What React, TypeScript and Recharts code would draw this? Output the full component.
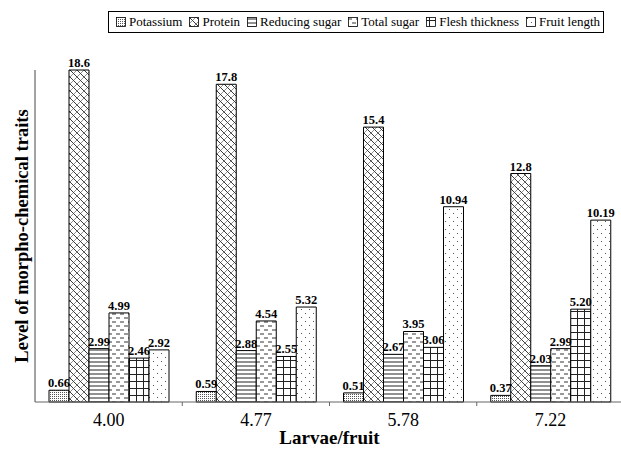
import React from 'react';
import { BarChart, Bar, XAxis, YAxis, LabelList, Legend } from 'recharts';

const categories = ['4.00', '4.77', '5.78', '7.22'];
const potassium = [0.66, 0.59, 0.51, 0.37];
const protein = [18.6, 17.8, 15.4, 12.8];
const reducingSugar = [2.99, 2.88, 2.67, 2.03];
const totalSugar = [4.99, 4.54, 3.95, 2.99];
const fleshThickness = [2.46, 2.55, 3.06, 5.2];
const fruitLength = [2.92, 5.32, 10.94, 10.19];

const SERIES = [
    { key: 'potassium', name: 'Potassium', pattern: 'pat-k', digits: 2 },
    { key: 'protein', name: 'Protein', pattern: 'pat-p', digits: 1 },
    { key: 'reducing', name: 'Reducing sugar', pattern: 'pat-rs', digits: 2 },
    { key: 'total', name: 'Total sugar', pattern: 'pat-ts', digits: 2 },
    { key: 'flesh', name: 'Flesh thickness', pattern: 'pat-ft', digits: 2 },
    { key: 'fruit', name: 'Fruit length', pattern: 'pat-fl', digits: 2 },
];

const data = categories.map((c, i) => ({
    cat: c,
    potassium: potassium[i],
    protein: protein[i],
    reducing: reducingSugar[i],
    total: totalSugar[i],
    flesh: fleshThickness[i],
    fruit: fruitLength[i],
}));

const FONT = 'Liberation Serif';
const W = 624;
const H = 450;
const LEFT = 35;
const BAND = (W - LEFT) / categories.length;

function Patterns() {
    return (
        <defs>
            <pattern id="pat-k" width="2" height="2" patternUnits="userSpaceOnUse">
                <rect width="2" height="2" fill="#fff" />
                <rect width="1" height="1" fill="#555" />
            </pattern>
            <pattern id="pat-p" width="7" height="7" patternUnits="userSpaceOnUse">
                <rect width="7" height="7" fill="#fff" />
                <path d="M0,0 L7,7 M-1,6 L1,8 M6,-1 L8,1" stroke="#222" strokeWidth="0.9" />
                <path d="M0,7 L7,0" stroke="#444" strokeWidth="0.6" />
            </pattern>
            <pattern id="pat-rs" width="4" height="4" patternUnits="userSpaceOnUse">
                <rect width="4" height="4" fill="#fff" />
                <line x1="0" y1="2" x2="4" y2="2" stroke="#222" strokeWidth="1" />
            </pattern>
            <pattern id="pat-ts" width="8" height="8" patternUnits="userSpaceOnUse">
                <rect width="8" height="8" fill="#fff" />
                <line x1="0" y1="2" x2="4" y2="2" stroke="#333" strokeWidth="1" />
                <line x1="4" y1="6" x2="8" y2="6" stroke="#333" strokeWidth="1" />
            </pattern>
            <pattern id="pat-ft" width="7" height="7" patternUnits="userSpaceOnUse">
                <rect width="7" height="7" fill="#fff" />
                <path d="M0,3.5 L7,3.5 M3.5,0 L3.5,7" stroke="#222" strokeWidth="1" />
            </pattern>
            <pattern id="pat-fl" width="8" height="8" patternUnits="userSpaceOnUse">
                <rect width="8" height="8" fill="#fff" />
                <rect x="1" y="1" width="1" height="1" fill="#555" />
                <rect x="5" y="5" width="1" height="1" fill="#555" />
            </pattern>
        </defs>
    );
}

function XTick(props: any) {
    const { x, y, payload, index } = props;
    return (
        <g>
            {index > 0 && (
                <line x1={x - BAND / 2} y1={y - 8} x2={x - BAND / 2} y2={y - 4} stroke="#666" />
            )}
            <text x={x} y={y + 16} textAnchor="middle" fontSize={18} fontFamily={FONT} fill="#000">
                {payload.value}
            </text>
        </g>
    );
}

function YLabel(props: any) {
    const vb = props.viewBox || { x: 0, y: 48, width: LEFT, height: 354 };
    const cx = vb.x + 22;
    const cy = vb.y + vb.height / 2;
    return (
        <text
            x={cx}
            y={cy}
            transform={`rotate(-90, ${cx}, ${cy})`}
            textAnchor="middle"
            dominantBaseline="central"
            fontSize={18.5}
            fontWeight="bold"
            fill="#000"
            fontFamily={FONT}
        >
            Level of morpho-chemical traits
        </text>
    );
}

function LegendBox() {
    return (
        <div
            style={{
                display: 'flex',
                alignItems: 'center',
                border: '1px solid #000',
                padding: '2px 3px 2px 7px',
                fontFamily: FONT,
                fontSize: 13,
                color: '#000',
                background: '#fff',
                whiteSpace: 'nowrap',
            }}
        >
            {SERIES.map((s, i) => (
                <span key={s.key} style={{ display: 'flex', alignItems: 'center', marginRight: i === SERIES.length - 1 ? 0 : 7 }}>
                    <svg width="10" height="10" style={{ marginRight: 3 }}>
                        <rect x="0.5" y="0.5" width="9" height="9" fill={`url(#${s.pattern})`} stroke="#000" strokeWidth="0.8" />
                    </svg>
                    {s.name}
                </span>
            ))}
        </div>
    );
}

export default function App() {
    return (
        <div style={{ position: 'absolute', left: 0, top: 0, width: 621, height: 450, overflow: 'hidden', background: '#fff', fontFamily: FONT }}>
            <BarChart
                width={W}
                height={H}
                data={data}
                margin={{ top: 48, right: 0, bottom: 0, left: 0 }}
                barCategoryGap={14}
                barGap={0}
            >
                <Patterns />
                <Legend
                    verticalAlign="top"
                    align="left"
                    content={() => <LegendBox />}
                    wrapperStyle={{ top: 11, left: 108, width: 'auto' }}
                />
                <XAxis
                    dataKey="cat"
                    height={48}
                    tickLine={false}
                    axisLine={{ stroke: '#666', strokeWidth: 1.2 }}
                    tick={<XTick />}
                    interval={0}
                    label={{
                        value: 'Larvae/fruit',
                        position: 'insideBottom',
                        offset: 6,
                        fontFamily: FONT,
                        fontSize: 19,
                        fontWeight: 'bold',
                        fill: '#000',
                    }}
                />
                <YAxis
                    width={LEFT}
                    domain={[0, 18.6]}
                    tick={false}
                    tickLine={false}
                    axisLine={{ stroke: '#666', strokeWidth: 1.2 }}
                    label={<YLabel />}
                />
                {SERIES.map((s) => (
                    <Bar
                        key={s.key}
                        dataKey={s.key}
                        name={s.name}
                        fill={`url(#${s.pattern})`}
                        stroke="#000"
                        strokeWidth={1}
                        isAnimationActive={false}
                    >
                        <LabelList
                            dataKey={s.key}
                            position="top"
                            offset={3}
                            formatter={(v: any) => Number(v).toFixed(s.digits)}
                            fontFamily={FONT}
                            fontSize={12.5}
                            fontWeight="bold"
                            fill="#000"
                        />
                    </Bar>
                ))}
            </BarChart>
        </div>
    );
}
